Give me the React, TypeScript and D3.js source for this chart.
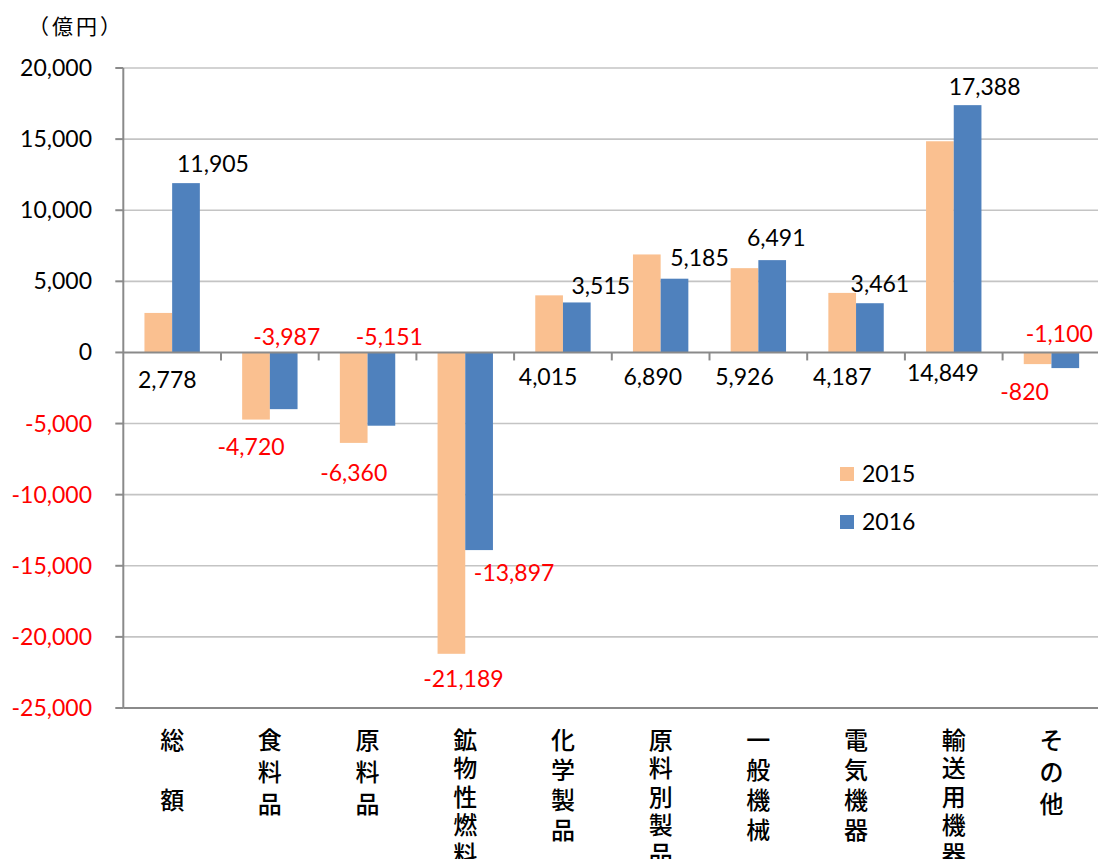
import { useRef, useEffect } from "react";
import * as d3 from "d3";

// categories (x axis, written vertically)
const categories = ["総額", "食料品", "原料品", "鉱物性燃料", "化学製品", "原料別製品", "一般機械", "電気機器", "輸送用機器", "その他"];
const years = ["2015", "2016"];

// 億円
const values2015 = [2778, -4720, -6360, -21189, 4015, 6890, 5926, 4187, 14849, -820];
const values2016 = [11905, -3987, -5151, -13897, 3515, 5185, 6491, 3461, 17388, -1100];

const yTicks = [20000, 15000, 10000, 5000, 0, -5000, -10000, -15000, -20000, -25000];

// label placement as in the original (anchor: bar end or zero line, then nudge)
const labelAnchor2015 = ["zero", "end", "end", "end", "zero", "zero", "zero", "zero", "zero", "end"];
const labelDx2015 = [9, -5, 0, 12, -1, 6, 0, 0, 3, -13];
const labelDy2015 = [28, 27, 30, 25, 25, 25, 25, 25, 21, 28];
const labelAnchor2016 = ["end", "zero", "zero", "end", "end", "end", "end", "end", "end", "zero"];
const labelDx2016 = [27, 3, 8, 35, 24, 25, 4, 10, 17, -6];
const labelDy2016 = [-19, -15, -15, 23, -17, -21, -22, -19, -18, -18];

const colors = ["#FAC090", "#4F81BD"];

// excel style: plain hyphen minus
const fmt = (v) => d3.format(",")(v).replace("\u2212", "-");

export default function App() {
    const svgRef = useRef(null);

    useEffect(() => {
        const width = 1098;
        const height = 859;
        const left = 123.3;
        const right = 1100.3;
        const top = 68;
        const bottom = 708;

        const numFont = "Lato, 'Noto Sans', sans-serif";
        const cjkFont = "'Noto Sans CJK JP', 'Noto Sans', sans-serif";

        const svg = d3.select(svgRef.current)
            .attr("width", width)
            .attr("height", height);
        svg.selectAll("*").remove();

        const yScale = d3.scaleLinear().domain([-25000, 20000]).range([bottom, top]);
        const x0 = d3.scaleBand()
            .domain(categories)
            .range([left, right])
            .paddingInner(0.433)
            .paddingOuter(0.2165);
        const x1 = d3.scaleBand().domain(years).range([0, x0.bandwidth()]);

        const zeroY = yScale(0);

        // gridlines
        svg.append("g")
            .selectAll("line")
            .data(yTicks.filter(d => d !== 0 && d !== -25000))
            .join("line")
            .attr("x1", left)
            .attr("x2", width)
            .attr("y1", d => yScale(d))
            .attr("y2", d => yScale(d))
            .attr("stroke", "#C4C4C4")
            .attr("stroke-width", 1.6);

        // bars
        const series = [values2015, values2016];
        series.forEach((vals, s) => {
            svg.append("g")
                .selectAll("rect")
                .data(vals)
                .join("rect")
                .attr("x", (d, i) => x0(categories[i]) + x1(years[s]))
                .attr("width", x1.bandwidth())
                .attr("y", d => Math.min(yScale(d), zeroY))
                .attr("height", d => Math.abs(yScale(d) - zeroY))
                .attr("fill", colors[s]);
        });

        const axisColor = "#8A8A8A";

        // y axis line + ticks
        svg.append("line")
            .attr("x1", left).attr("x2", left)
            .attr("y1", top).attr("y2", bottom)
            .attr("stroke", axisColor).attr("stroke-width", 2);
        svg.append("g")
            .selectAll("line")
            .data(yTicks)
            .join("line")
            .attr("x1", left - 8).attr("x2", left)
            .attr("y1", d => yScale(d)).attr("y2", d => yScale(d))
            .attr("stroke", axisColor).attr("stroke-width", 2);

        // zero line and bottom line
        [0, -25000].forEach(v => {
            svg.append("line")
                .attr("x1", left).attr("x2", width)
                .attr("y1", yScale(v)).attr("y2", yScale(v))
                .attr("stroke", axisColor).attr("stroke-width", 2);
        });

        // category ticks on zero line
        const step = x0.step();
        svg.append("g")
            .selectAll("line")
            .data(d3.range(1, categories.length))
            .join("line")
            .attr("x1", k => left + step * k)
            .attr("x2", k => left + step * k)
            .attr("y1", zeroY)
            .attr("y2", zeroY + 8)
            .attr("stroke", axisColor).attr("stroke-width", 2);

        // y tick labels
        svg.append("g")
            .selectAll("text")
            .data(yTicks)
            .join("text")
            .attr("x", 92)
            .attr("y", d => yScale(d))
            .attr("dy", "0.35em")
            .attr("text-anchor", "end")
            .attr("font-family", numFont)
            .attr("font-size", 23)
            .attr("fill", d => d < 0 ? "#FF0000" : "#000000")
            .text(d => fmt(d));

        // unit
        svg.append("text")
            .attr("x", 28)
            .attr("y", 26)
            .attr("dy", "0.38em")
            .attr("font-family", cjkFont)
            .attr("font-size", 21)
            .attr("letter-spacing", 3)
            .attr("fill", "#000")
            .text("（億円）");

        // data labels
        const anchors = [labelAnchor2015, labelAnchor2016];
        const dxs = [labelDx2015, labelDx2016];
        const dys = [labelDy2015, labelDy2016];
        series.forEach((vals, s) => {
            svg.append("g")
                .selectAll("text")
                .data(vals)
                .join("text")
                .attr("x", (d, i) => x0(categories[i]) + x1(years[s]) + x1.bandwidth() / 2 + dxs[s][i])
                .attr("y", (d, i) => (anchors[s][i] === "zero" ? zeroY : yScale(d)) + dys[s][i])
                .attr("dy", "0.35em")
                .attr("text-anchor", "middle")
                .attr("font-family", numFont)
                .attr("font-size", 23)
                .attr("fill", d => d < 0 ? "#FF0000" : "#000000")
                .text(d => fmt(d));
        });

        // category labels, vertical
        const pitchFor = (n) => ({ 2: 60, 3: 32, 4: 30, 5: 28.5 }[n] || 30);
        const catG = svg.append("g");
        categories.forEach(c => {
            const chars = Array.from(c);
            const cx = x0(c) + x0.bandwidth() / 2;
            const p = pitchFor(chars.length);
            catG.selectAll(null)
                .data(chars)
                .join("text")
                .attr("x", cx)
                .attr("y", (ch, j) => 740 + j * p)
                .attr("dy", "0.36em")
                .attr("text-anchor", "middle")
                .attr("font-family", cjkFont)
                .attr("font-size", 24)
                .attr("font-weight", 500)
                .attr("fill", "#000")
                .text(ch => ch);
        });

        // legend
        const legend = svg.append("g");
        years.forEach((yr, s) => {
            const ly = 474 + s * 48;
            legend.append("rect")
                .attr("x", 840).attr("y", ly - 7)
                .attr("width", 14).attr("height", 14)
                .attr("fill", colors[s]);
            legend.append("text")
                .attr("x", 862).attr("y", ly)
                .attr("dy", "0.35em")
                .attr("font-family", numFont)
                .attr("font-size", 23)
                .attr("fill", "#000")
                .text(yr);
        });
    }, []);

    return (
        <svg ref={svgRef} style={{ position: "absolute", left: 0, top: 0, background: "#fff" }}></svg>
    );
}
